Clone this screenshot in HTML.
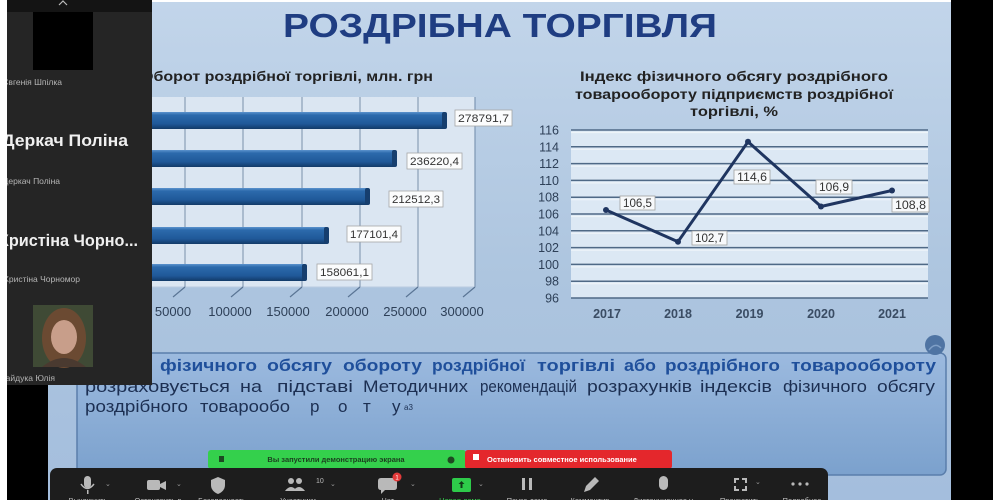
<!DOCTYPE html>
<html><head><meta charset="utf-8">
<style>
html,body{margin:0;padding:0;background:#fff;}
svg{display:block;}
text{font-family:"Liberation Sans","DejaVu Sans",sans-serif;}
</style></head>
<body>
<svg width="1000" height="500" viewBox="0 0 1000 500" xmlns="http://www.w3.org/2000/svg">
<defs>
  <linearGradient id="bg" x1="0" y1="0" x2="0" y2="1">
    <stop offset="0" stop-color="#c2d5ea"/>
    <stop offset="0.55" stop-color="#adc5df"/>
    <stop offset="1" stop-color="#a4bedd"/>
  </linearGradient>
  <linearGradient id="barg" x1="0" y1="0" x2="0" y2="1">
    <stop offset="0" stop-color="#5b93cd"/>
    <stop offset="0.18" stop-color="#2c6aac"/>
    <stop offset="0.7" stop-color="#1f5898"/>
    <stop offset="1" stop-color="#123a68"/>
  </linearGradient>
  <linearGradient id="boxg" x1="0" y1="0" x2="0" y2="1">
    <stop offset="0" stop-color="#9cbadf"/>
    <stop offset="1" stop-color="#7ba1cd"/>
  </linearGradient>
  <clipPath id="panelclip"><rect x="7" y="0" width="145" height="385"/></clipPath>
</defs>

<!-- slide background -->
<rect x="7" y="2" width="944" height="498" fill="url(#bg)"/>

<!-- title -->
<text x="283" y="37" font-size="33" font-weight="bold" fill="#1f3d82" textLength="434" lengthAdjust="spacingAndGlyphs">РОЗДРІБНА ТОРГІВЛЯ</text>

<!-- ===== BAR CHART ===== -->
<text x="141" y="81" font-size="14" font-weight="bold" fill="#222" textLength="292" lengthAdjust="spacingAndGlyphs">Оборот роздрібної торгівлі, млн. грн</text>
<rect x="100" y="97" width="375" height="190" fill="#dbe6f2"/>
<line x1="475" y1="97" x2="475" y2="287" stroke="#7d96b3" stroke-width="1.2"/>
<line x1="100" y1="287" x2="475" y2="287" stroke="#b9cbe0" stroke-width="1"/>
<g stroke="#7a90aa" stroke-width="1">
  <line x1="185" y1="97" x2="185" y2="287"/>
  <line x1="243" y1="97" x2="243" y2="287"/>
  <line x1="302" y1="97" x2="302" y2="287"/>
  <line x1="360" y1="97" x2="360" y2="287"/>
  <line x1="418" y1="97" x2="418" y2="287"/>
</g>
<g stroke="#5a7595" stroke-width="1.2">
  <line x1="185" y1="287" x2="173" y2="297"/>
  <line x1="243" y1="287" x2="231" y2="297"/>
  <line x1="302" y1="287" x2="290" y2="297"/>
  <line x1="360" y1="287" x2="348" y2="297"/>
  <line x1="418" y1="287" x2="406" y2="297"/>
  <line x1="475" y1="287" x2="463" y2="297"/>
</g>
<!-- bars -->
<g>
  <rect x="100" y="112" width="347" height="17" rx="3" fill="url(#barg)"/>
  <rect x="442" y="112" width="5" height="17" rx="2" fill="#163e6e"/>
  <rect x="100" y="150" width="297" height="17" rx="3" fill="url(#barg)"/>
  <rect x="392" y="150" width="5" height="17" rx="2" fill="#163e6e"/>
  <rect x="100" y="188" width="270" height="17" rx="3" fill="url(#barg)"/>
  <rect x="365" y="188" width="5" height="17" rx="2" fill="#163e6e"/>
  <rect x="100" y="227" width="229" height="17" rx="3" fill="url(#barg)"/>
  <rect x="324" y="227" width="5" height="17" rx="2" fill="#163e6e"/>
  <rect x="100" y="264" width="207" height="17" rx="3" fill="url(#barg)"/>
  <rect x="302" y="264" width="5" height="17" rx="2" fill="#163e6e"/>
</g>
<!-- bar labels -->
<g font-size="11" fill="#333">
  <rect x="455" y="110" width="57" height="16" fill="#fbfcfd" stroke="#a6a6a6" stroke-width="0.8"/>
  <text x="458" y="122" textLength="51" lengthAdjust="spacingAndGlyphs">278791,7</text>
  <rect x="407" y="153" width="55" height="16" fill="#fbfcfd" stroke="#a6a6a6" stroke-width="0.8"/>
  <text x="410" y="165" textLength="49" lengthAdjust="spacingAndGlyphs">236220,4</text>
  <rect x="389" y="191" width="54" height="16" fill="#fbfcfd" stroke="#a6a6a6" stroke-width="0.8"/>
  <text x="392" y="203" textLength="48" lengthAdjust="spacingAndGlyphs">212512,3</text>
  <rect x="347" y="226" width="54" height="16" fill="#fbfcfd" stroke="#a6a6a6" stroke-width="0.8"/>
  <text x="350" y="238" textLength="48" lengthAdjust="spacingAndGlyphs">177101,4</text>
  <rect x="317" y="264" width="55" height="16" fill="#fbfcfd" stroke="#a6a6a6" stroke-width="0.8"/>
  <text x="320" y="276" textLength="49" lengthAdjust="spacingAndGlyphs">158061,1</text>
</g>
<!-- bar axis labels -->
<g font-size="13" fill="#2e4058" text-anchor="middle">
  <text x="173" y="316">50000</text>
  <text x="230" y="316">100000</text>
  <text x="288" y="316">150000</text>
  <text x="347" y="316">200000</text>
  <text x="405" y="316">250000</text>
  <text x="462" y="316">300000</text>
</g>

<!-- ===== LINE CHART ===== -->
<g font-size="14" font-weight="bold" fill="#222" text-anchor="middle">
  <text x="734" y="81" textLength="308" lengthAdjust="spacingAndGlyphs">Індекс фізичного обсягу роздрібного</text>
  <text x="734" y="99" textLength="318" lengthAdjust="spacingAndGlyphs">товарообороту підприємств роздрібної</text>
  <text x="734" y="116" textLength="88" lengthAdjust="spacingAndGlyphs">торгівлі, %</text>
</g>
<rect x="571" y="130" width="357" height="168" fill="#dce8f4"/>
<g stroke="#f3f7fb" stroke-width="1.2" opacity="0.8">
  <line x1="571" x2="928" y1="132.5" y2="132.5"/>
  <line x1="571" x2="928" y1="149.3" y2="149.3"/>
  <line x1="571" x2="928" y1="166.1" y2="166.1"/>
  <line x1="571" x2="928" y1="182.9" y2="182.9"/>
  <line x1="571" x2="928" y1="199.7" y2="199.7"/>
  <line x1="571" x2="928" y1="216.5" y2="216.5"/>
  <line x1="571" x2="928" y1="233.3" y2="233.3"/>
  <line x1="571" x2="928" y1="250.1" y2="250.1"/>
  <line x1="571" x2="928" y1="266.9" y2="266.9"/>
  <line x1="571" x2="928" y1="283.7" y2="283.7"/>
</g>
<g stroke="#4f6986" stroke-width="1.5">
  <line x1="571" x2="928" y1="130" y2="130"/>
  <line x1="571" x2="928" y1="146.8" y2="146.8"/>
  <line x1="571" x2="928" y1="163.6" y2="163.6"/>
  <line x1="571" x2="928" y1="180.4" y2="180.4"/>
  <line x1="571" x2="928" y1="197.2" y2="197.2"/>
  <line x1="571" x2="928" y1="214" y2="214"/>
  <line x1="571" x2="928" y1="230.8" y2="230.8"/>
  <line x1="571" x2="928" y1="247.6" y2="247.6"/>
  <line x1="571" x2="928" y1="264.4" y2="264.4"/>
  <line x1="571" x2="928" y1="281.2" y2="281.2"/>
  <line x1="571" x2="928" y1="298" y2="298"/>
</g>
<g font-size="12.5" fill="#2e4058" text-anchor="end">
  <text x="559" y="134.5">116</text>
  <text x="559" y="151.3">114</text>
  <text x="559" y="168.1">112</text>
  <text x="559" y="184.9">110</text>
  <text x="559" y="201.7">108</text>
  <text x="559" y="218.5">106</text>
  <text x="559" y="235.3">104</text>
  <text x="559" y="252.1">102</text>
  <text x="559" y="268.9">100</text>
  <text x="559" y="285.7">98</text>
  <text x="559" y="302.5">96</text>
</g>
<g font-size="12.5" font-weight="bold" fill="#3a4c63" text-anchor="middle">
  <text x="607" y="318">2017</text>
  <text x="678" y="318">2018</text>
  <text x="749.5" y="318">2019</text>
  <text x="821" y="318">2020</text>
  <text x="892" y="318">2021</text>
</g>
<polyline points="606,210 678,241.7 748,141.8 821,206.5 892,190.5" fill="none" stroke="#1f3560" stroke-width="3" stroke-linejoin="round"/>
<g fill="#1f3560">
  <circle cx="606" cy="210" r="3"/>
  <circle cx="678" cy="241.7" r="3"/>
  <circle cx="748" cy="141.8" r="3"/>
  <circle cx="821" cy="206.5" r="3"/>
  <circle cx="892" cy="190.5" r="3"/>
</g>
<g font-size="11.5" fill="#333">
  <rect x="620" y="196" width="35" height="14" fill="#f7f9fb" stroke="#a0a0a0" stroke-width="0.8"/>
  <text x="623" y="207" textLength="29" lengthAdjust="spacingAndGlyphs">106,5</text>
  <rect x="692" y="231" width="35" height="14" fill="#f7f9fb" stroke="#a0a0a0" stroke-width="0.8"/>
  <text x="695" y="242" textLength="29" lengthAdjust="spacingAndGlyphs">102,7</text>
  <rect x="734" y="170" width="36" height="14" fill="#f7f9fb" stroke="#a0a0a0" stroke-width="0.8"/>
  <text x="737" y="181" textLength="30" lengthAdjust="spacingAndGlyphs">114,6</text>
  <rect x="816" y="180" width="36" height="14" fill="#f7f9fb" stroke="#a0a0a0" stroke-width="0.8"/>
  <text x="819" y="191" textLength="30" lengthAdjust="spacingAndGlyphs">106,9</text>
  <rect x="892" y="198" width="37" height="14" fill="#f7f9fb" stroke="#a0a0a0" stroke-width="0.8"/>
  <text x="895" y="209" textLength="31" lengthAdjust="spacingAndGlyphs">108,8</text>
</g>

<!-- ===== BOTTOM TEXT BOX ===== -->
<rect x="77" y="353" width="869" height="122" rx="6" fill="url(#boxg)" stroke="#5a7eab" stroke-width="1.5"/>
<circle cx="935" cy="345" r="10" fill="#4f74a3"/>
<path d="M929 350 q6 -8 12 -2" stroke="#7f9fc6" stroke-width="1.5" fill="none"/>
<g font-size="17" font-weight="bold" fill="#1f4f9b">
  <text x="85" y="371" textLength="66" lengthAdjust="spacingAndGlyphs">Індекс</text>
  <text x="160" y="371" textLength="97" lengthAdjust="spacingAndGlyphs">фізичного</text>
  <text x="267" y="371" textLength="65" lengthAdjust="spacingAndGlyphs">обсягу</text>
  <text x="343" y="371" textLength="79" lengthAdjust="spacingAndGlyphs">обороту</text>
  <text x="432" y="371" textLength="93" lengthAdjust="spacingAndGlyphs">роздрібної</text>
  <text x="537" y="371" textLength="78" lengthAdjust="spacingAndGlyphs">торгівлі</text>
  <text x="624" y="371" textLength="32" lengthAdjust="spacingAndGlyphs">або</text>
  <text x="665" y="371" textLength="115" lengthAdjust="spacingAndGlyphs">роздрібного</text>
  <text x="791" y="371" textLength="145" lengthAdjust="spacingAndGlyphs">товарообороту</text>
</g>
<g font-size="17" fill="#1c2f52">
  <text x="85" y="392" textLength="145" lengthAdjust="spacingAndGlyphs">розраховується</text>
  <text x="240" y="392" textLength="22" lengthAdjust="spacingAndGlyphs">на</text>
  <text x="277" y="392" textLength="76" lengthAdjust="spacingAndGlyphs">підставі</text>
  <text x="363" y="392" textLength="105" lengthAdjust="spacingAndGlyphs">Методичних</text>
  <text x="480" y="392" textLength="97" lengthAdjust="spacingAndGlyphs">рекомендацій</text>
  <text x="587" y="392" textLength="105" lengthAdjust="spacingAndGlyphs">розрахунків</text>
  <text x="700" y="392" textLength="72" lengthAdjust="spacingAndGlyphs">індексів</text>
  <text x="783" y="392" textLength="84" lengthAdjust="spacingAndGlyphs">фізичного</text>
  <text x="877" y="392" textLength="58" lengthAdjust="spacingAndGlyphs">обсягу</text>
  <text x="85" y="412" textLength="103" lengthAdjust="spacingAndGlyphs">роздрібного</text>
  <text x="200" y="412" textLength="90" lengthAdjust="spacingAndGlyphs">товарообо</text>
  <text x="310" y="412">р</text>
  <text x="338" y="412">о</text>
  <text x="363" y="412">т</text>
  <text x="392" y="412">у</text>
  <text x="404" y="410" font-size="8">а3</text>
</g>

<!-- ===== NOTIFICATION BARS ===== -->
<rect x="208" y="450" width="258" height="19" rx="3" fill="#34d04c"/>
<rect x="219" y="456" width="5" height="6" fill="#1d4a22"/>
<text x="336" y="462" font-size="7.5" font-weight="bold" fill="#1c3e1f" text-anchor="middle">Вы запустили демонстрацию экрана</text>
<circle cx="451" cy="460" r="3.5" fill="#1f4a22"/>
<rect x="465" y="450" width="207" height="19" rx="3" fill="#e4272c"/>
<rect x="473" y="454" width="6" height="6" fill="#ffffff"/>
<text x="487" y="462" font-size="7.5" font-weight="bold" fill="#ffffff">Остановить совместное использование</text>

<!-- ===== TOOLBAR ===== -->
<rect x="50" y="468" width="778" height="40" rx="7" fill="#1d1d1d"/>
<g fill="#b9b9b9">
  <rect x="84" y="476" width="7" height="12" rx="3.5"/>
  <path d="M81 484 q6 9 13 0" stroke="#b9b9b9" stroke-width="1.5" fill="none"/>
  <rect x="87" y="490" width="1.5" height="4"/>
  <rect x="147" y="480" width="13" height="10" rx="2"/>
  <path d="M160 484 l6 -3 v9 l-6 -3z"/>
  <path d="M218 477 l7 3 v5 q0 6 -7 9 q-7 -3 -7 -9 v-5z"/>
  <circle cx="291" cy="481" r="3"/>
  <circle cx="299" cy="481" r="3"/>
  <path d="M285 491 q6 -8 12 0z M293 491 q6 -8 12 0z"/>
  <path d="M380 478 h14 q3 0 3 3 v6 q0 3 -3 3 h-9 l-4 4 v-4 q-3 0 -3 -3 v-6 q0 -3 3 -3z"/>
  <rect x="522" y="478" width="3" height="12"/>
  <rect x="529" y="478" width="3" height="12"/>
  <path d="M584 492 l2 -6 l9 -9 l4 4 l-9 9z"/>
  <rect x="659" y="476" width="9" height="14" rx="4.5"/>
  <path d="M734 478 h5 v2 h-3 v3 h-2z M747 478 v5 h-2 v-3 h-3 v-2z M734 491 v-5 h2 v3 h3 v2z M747 491 h-5 v-2 h3 v-3 h2z"/>
  <circle cx="793" cy="484" r="1.6"/>
  <circle cx="800" cy="484" r="1.6"/>
  <circle cx="807" cy="484" r="1.6"/>
</g>
<circle cx="397" cy="477" r="4.5" fill="#e33a3a"/>
<text x="397" y="479.5" font-size="6" fill="#fff" text-anchor="middle">1</text>
<text x="316" y="483" font-size="7" fill="#b9b9b9">10</text>
<rect x="452" y="478" width="19" height="14" rx="2" fill="#2ecb4a"/>
<path d="M461.5 481 l3 3 h-2 v4 h-2 v-4 h-2z" fill="#123a18"/>
<g fill="#9a9a9a" font-size="7">
  <text x="105" y="486">⌄</text>
  <text x="176" y="486">⌄</text>
  <text x="330" y="486">⌄</text>
  <text x="410" y="486">⌄</text>
  <text x="478" y="486">⌄</text>
  <text x="755" y="484">⌄</text>
</g>
<g font-size="7.5" fill="#bdbdbd" text-anchor="middle">
  <text x="88" y="503">Выключить</text>
  <text x="158" y="503">Остановить в</text>
  <text x="222" y="503">Безопасность</text>
  <text x="298" y="503">Участники</text>
  <text x="388" y="503">Чат</text>
  <text x="460" y="503" fill="#34d04c">Новая демо</text>
  <text x="527" y="503">Пауза демо</text>
  <text x="590" y="503">Комментир</text>
  <text x="663" y="503">Дистанционное у</text>
  <text x="740" y="503">Прекратить</text>
  <text x="802" y="503">Подробнее</text>
</g>

<!-- right black strip -->
<rect x="951" y="0" width="42" height="500" fill="#000"/>

<!-- left black below panel -->
<rect x="7" y="385" width="41" height="115" fill="#000"/>

<!-- ===== PARTICIPANT PANEL ===== -->
<g clip-path="url(#panelclip)">
  <rect x="7" y="0" width="145" height="385" fill="#252525"/>
  <rect x="7" y="0" width="145" height="12" fill="#141414"/>
  <path d="M59 5 l4 -4 l4 4" stroke="#bbb" stroke-width="1.2" fill="none"/>
  <rect x="33" y="12" width="60" height="58" fill="#000"/>
  <text x="62" y="85" font-size="8.5" fill="#b5b5b5" text-anchor="end">Євгенія Шпілка</text>
  <text x="128" y="146" font-size="17" font-weight="bold" fill="#f0f0f0" text-anchor="end" textLength="126" lengthAdjust="spacingAndGlyphs">Деркач Поліна</text>
  <text x="60" y="184" font-size="8.5" fill="#b5b5b5" text-anchor="end">Деркач Поліна</text>
  <text x="138" y="246" font-size="17" font-weight="bold" fill="#f0f0f0" text-anchor="end" textLength="140" lengthAdjust="spacingAndGlyphs">Христіна Чорно...</text>
  <text x="80" y="282" font-size="8.5" fill="#b5b5b5" text-anchor="end">Христіна Чорномор</text>
  <rect x="33" y="305" width="60" height="62" fill="#3f4a35"/>
  <ellipse cx="64" cy="338" rx="22" ry="30" fill="#6b4a32"/>
  <ellipse cx="64" cy="337" rx="13" ry="17" fill="#c89e8a"/>
  <path d="M42 367 q22 -18 44 0z" fill="#4a3a30"/>
  <text x="55" y="381" font-size="8.5" fill="#b5b5b5" text-anchor="end">Гайдука Юлія</text>
</g>

<!-- white edges -->
<rect x="0" y="0" width="7" height="500" fill="#fff"/>
<rect x="993" y="0" width="7" height="500" fill="#fff"/>
</svg>
</body></html>
